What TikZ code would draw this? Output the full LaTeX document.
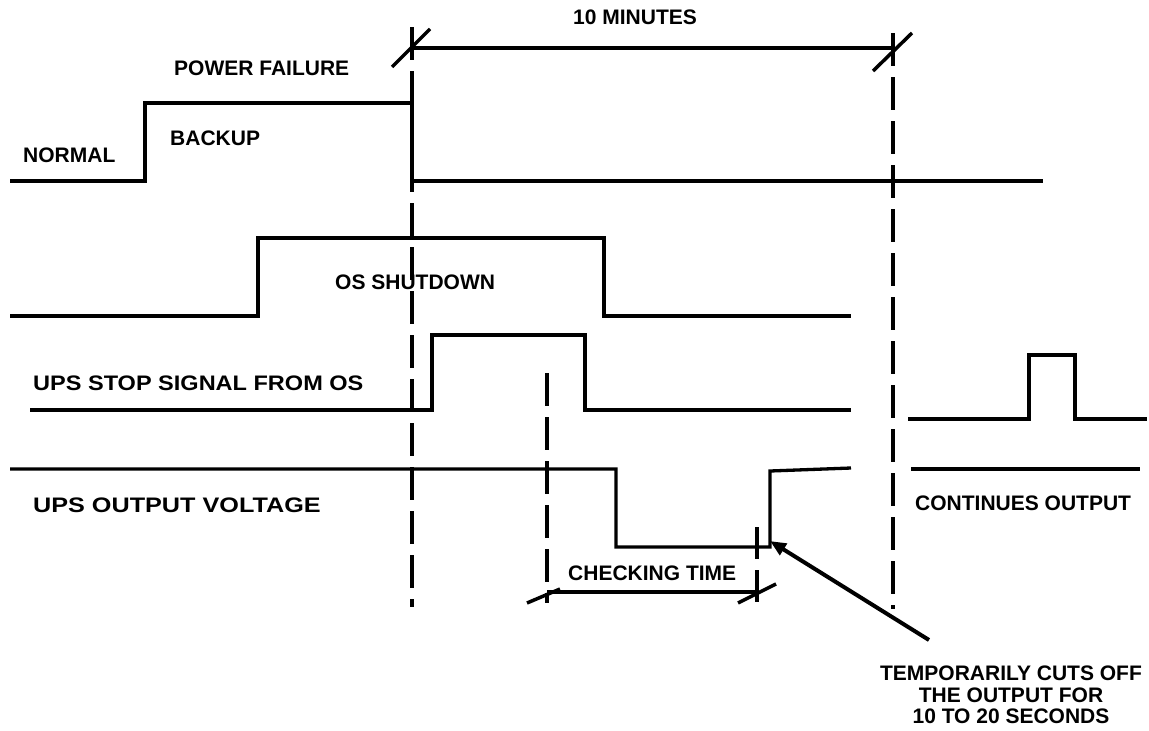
\documentclass[tikz,border=0pt]{standalone}
\usepackage{fontspec}
\setmainfont{Liberation Sans}
\usetikzlibrary{arrows.meta}
\begin{document}
\begin{tikzpicture}[x=1pt,y=-1pt,
  wave/.style={line width=3.3pt},
  guide/.style={line width=4pt,dash pattern=on 33pt off 11pt},
  dim/.style={line width=3.5pt},
  lbl/.style={font=\fontsize{21}{25}\selectfont\bfseries, inner sep=0pt},
  lblw/.style={lbl, anchor=base west},
  lblc/.style={lbl, anchor=base}]
\fill[white] (0,0) rectangle (1149,731);
\useasboundingbox (0,0) rectangle (1149,731);

% guide (dashed) lines
\coordinate (pfTop) at (412,27);
\coordinate (pfBot) at (412,607);
\coordinate (tmTop) at (893,33);
\coordinate (tmBot) at (893,609);
\coordinate (ckTop) at (547,373);
\coordinate (ckBot) at (547,603);
\draw[guide] (pfTop) -- (pfBot);
\draw[guide] (tmTop) -- (tmBot);
\draw[guide] (ckTop) -- (ckBot);
\coordinate (ce1) at (757,527);
\coordinate (ce2) at (757,559);
\coordinate (ce3) at (757,570);
\coordinate (ce4) at (757,602);
\draw[line width=4pt] (ce1) -- (ce2) (ce3) -- (ce4);

% 10 minutes dimension
\coordinate (m1) at (412,48);
\coordinate (m2) at (893,48);
\draw[dim] (m1) -- (m2);
\draw[dim] (392,67) -- (430,29);
\draw[dim] (873,71) -- (912,33);
\node[lblw] (tmin) at (573,24) {10 MINUTES};

% checking time dimension
\coordinate (c1) at (547,592);
\coordinate (c2) at (757,592);
\draw[dim] (c1) -- (c2);
\draw[dim] (527,603) -- (560,589);
\draw[dim] (738,603) -- (776,584);
\node[lblw] (ckt) at (568,580) {CHECKING TIME};

% power waveform
\draw[wave] (10,181) -- (145,181) -- (145,103) -- (412,103) -- (412,181) -- (1043,181);
\node[lblw] (pf) at (174,75) {POWER FAILURE};
\node[lblw] (bk) at (170,145) {BACKUP};
\node[lblw] (nm) at (23,162) {NORMAL};

% OS shutdown
\draw[wave] (10,316) -- (258,316) -- (258,238) -- (604,238) -- (604,316) -- (851,316);
\node[lblw] (os) at (335,289) {OS SHUTDOWN};

% UPS stop signal
\draw[wave] (30,410) -- (432,410) -- (432,335) -- (585,335) -- (585,410) -- (851,410);
\node[lblw] (st) at (33,390) {\scalebox{1.12}[1]{UPS STOP SIGNAL FROM OS}};

% UPS output voltage
\draw[wave] (10,469) -- (616,469) -- (616,547) -- (770,547) -- (770,471) -- (851,468);
\node[lblw] (ov) at (33,512) {\scalebox{1.2}[1]{UPS OUTPUT VOLTAGE}};

% right side
\draw[wave] (908,419) -- (1029,419) -- (1029,355) -- (1075,355) -- (1075,419) -- (1147,419);
\draw[wave] (911,469) -- (1140,469);
\node[lblw] (co) at (915,510) {CONTINUES OUTPUT};

% callout
\node[lblc] (t1) at (1011,680) {TEMPORARILY CUTS OFF};
\node[lblc] (t2) at (1011,702) {THE OUTPUT FOR};
\node[lblc] (t3) at (1011,723) {10 TO 20 SECONDS};
\coordinate (aS) at (929,640);
\coordinate (aE) at (770,541);
\draw[line width=4pt, -{Triangle[length=16pt,width=13pt]}] (aS) -- (aE);
\end{tikzpicture}
\end{document}
